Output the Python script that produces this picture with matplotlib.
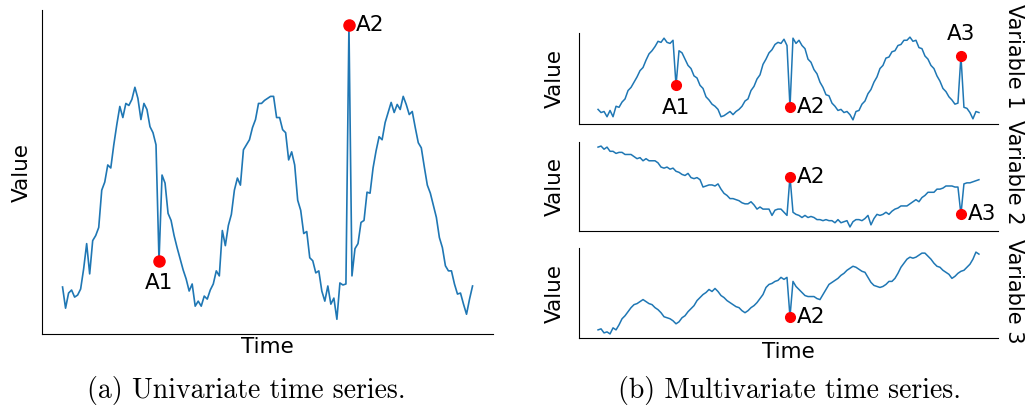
import matplotlib.pyplot as plt

# univariate series (a)
uni_values = [34, 13, 28, 31, 24, 26, 32, 52, 77, 47, 80, 85, 93, 130, 138, 155, 152, 175, 195, 213,
              202, 216, 214, 220, 232, 221, 200, 216, 210, 193, 187, 175, 60, 145, 137, 107, 100, 85, 73, 62,
              51, 42, 30, 37, 15, 20, 15, 25, 22, 31, 37, 50, 45, 90, 75, 95, 106, 130, 142, 135,
              170, 175, 180, 192, 200, 216, 216, 219, 221, 223, 223, 202, 202, 190, 187, 160, 168, 155, 120, 110,
              87, 89, 63, 60, 48, 50, 30, 20, 35, 17, 23, 2, 38, 36, 37, 294, 45, 72, 77, 98,
              100, 128, 127, 152, 169, 183, 180, 197, 207, 217, 207, 215, 210, 223, 215, 205, 208, 192, 177, 172,
              153, 135, 127, 115, 103, 83, 73, 55, 50, 50, 37, 27, 28, 17, 7, 22, 35]
uni_anomalies = {'A1': 32, 'A2': 95}

# multivariate series (b)
var1 = [16, 13, 14, 9, 15, 9, 19, 18, 23, 26, 34, 37, 42, 47, 53, 56, 63, 69, 72, 76,
        81, 80, 84, 80, 79, 82, 39, 72, 70, 64, 58, 55, 48, 46, 39, 36, 28, 25, 21, 19,
        16, 9, 10, 12, 14, 11, 14, 16, 19, 24, 26, 34, 38, 45, 49, 59, 64, 70, 73, 78,
        80, 79, 83, 77, 18, 84, 79, 82, 77, 74, 64, 61, 54, 50, 42, 37, 30, 29, 22, 19,
        15, 16, 13, 14, 11, 6, 14, 15, 21, 24, 31, 35, 42, 47, 55, 58, 65, 66, 71, 72,
        77, 78, 82, 82, 85, 81, 82, 75, 74, 67, 64, 58, 55, 48, 43, 36, 33, 28, 25, 21,
        22, 67, 18, 17, 13, 7, 14, 13]
var2 = [83, 84, 81, 83, 79, 79, 77, 78, 78, 76, 76, 76, 74, 72, 73, 70, 72, 70, 70, 70,
        68, 64, 63, 64, 62, 63, 60, 59, 57, 56, 58, 54, 53, 54, 52, 45, 46, 47, 47, 46,
        48, 43, 39, 37, 34, 34, 33, 32, 30, 29, 29, 31, 28, 24, 26, 24, 24, 24, 18, 23,
        24, 24, 21, 18, 55, 21, 19, 18, 16, 18, 16, 17, 16, 14, 14, 13, 14, 13, 13, 11,
        14, 11, 12, 13, 7, 12, 14, 14, 13, 15, 18, 9, 15, 19, 18, 19, 21, 19, 22, 24,
        25, 27, 27, 27, 29, 31, 33, 31, 35, 37, 40, 40, 40, 43, 43, 44, 46, 46, 46, 45,
        45, 19, 48, 49, 49, 50, 51, 52]
var3 = [8, 9, 5, 6, 4, 10, 8, 13, 19, 22, 26, 30, 33, 34, 36, 38, 36, 34, 33, 30,
        28, 25, 21, 20, 19, 17, 14, 16, 20, 22, 26, 29, 32, 37, 40, 43, 45, 48, 46, 49,
        46, 42, 40, 37, 35, 33, 31, 30, 27, 25, 27, 30, 32, 35, 39, 43, 50, 53, 54, 56,
        57, 60, 58, 60, 21, 56, 51, 48, 45, 42, 41, 41, 41, 39, 38, 43, 48, 53, 55, 57,
        59, 62, 64, 67, 69, 71, 70, 68, 66, 65, 60, 55, 52, 51, 50, 51, 53, 56, 56, 59,
        64, 70, 74, 78, 80, 79, 80, 82, 84, 84, 81, 78, 74, 71, 70, 67, 65, 63, 59, 61,
        64, 66, 67, 70, 73, 78, 85, 83]
multi_series = [var1, var2, var3]
multi_names = ['Variable 1', 'Variable 2', 'Variable 3']
# anomaly label -> (index, where the label sits)
multi_anomalies = [
    {'A1': (26, 'below'), 'A2': (64, 'right'), 'A3': (121, 'above')},
    {'A2': (64, 'right'), 'A3': (121, 'right')},
    {'A2': (64, 'right')},
]

line_color = '#1f77b4'
fs = 15.5

offsets = {'below': ((0, -16), 'center', 'center'),
           'right': ((5, 0), 'left', 'center'),
           'above': ((0, 16), 'center', 'center')}


def clean_axes(ax):
    ax.spines['top'].set_visible(False)
    ax.spines['right'].set_visible(False)
    ax.set_xticks([])
    ax.set_yticks([])


def mark(ax, series, idx, label, where, ms):
    ax.plot(idx, series[idx], 'o', color='red', ms=ms, zorder=3)
    off, ha, va = offsets[where]
    ax.annotate(label, (idx, series[idx]), xytext=off, textcoords='offset points',
                ha=ha, va=va, fontsize=fs)


fig = plt.figure(figsize=(10.33, 4.16), dpi=100)

# (a) univariate
ax = fig.add_axes([0.0407, 0.1971, 0.4366, 0.7788])
ax.plot(range(len(uni_values)), uni_values, color=line_color, lw=1.2)
mark(ax, uni_values, uni_anomalies['A1'], 'A1', 'below', 8)
mark(ax, uni_values, uni_anomalies['A2'], 'A2', 'right', 8)
clean_axes(ax)
ax.set_ylabel('Value', fontsize=fs)
ax.set_xlabel('Time', fontsize=fs)
ax.yaxis.set_label_coords(-0.022, 0.5)
ax.xaxis.set_label_coords(0.5, -0.01)

# (b) multivariate
rows = [(0.7019, 0.2188), (0.4447, 0.2139), (0.1875, 0.2163)]
name_y = [0.865, 0.585, 0.30]
for i, (bottom, height) in enumerate(rows):
    ax = fig.add_axes([0.5605, bottom, 0.4056, height])
    s = multi_series[i]
    ax.plot(range(len(s)), s, color=line_color, lw=1.1)
    for lab, (idx, where) in multi_anomalies[i].items():
        mark(ax, s, idx, lab, where, 7)
    clean_axes(ax)
    ax.set_ylabel('Value', fontsize=fs)
    ax.yaxis.set_label_coords(-0.033, 0.5)
    fig.text(0.982, name_y[i], multi_names[i], rotation=270, ha='center', va='center',
             fontsize=15)
    if i == 2:
        ax.set_xlabel('Time', fontsize=fs)
        ax.xaxis.set_label_coords(0.5, -0.05)

fig.text(0.238, 0.062, '(a) Univariate time series.', fontfamily='cmr10', fontsize=20,
         ha='center', va='center')
fig.text(0.764, 0.062, '(b) Multivariate time series.', fontfamily='cmr10', fontsize=20,
         ha='center', va='center')

fig.savefig('out.png', dpi=100)
